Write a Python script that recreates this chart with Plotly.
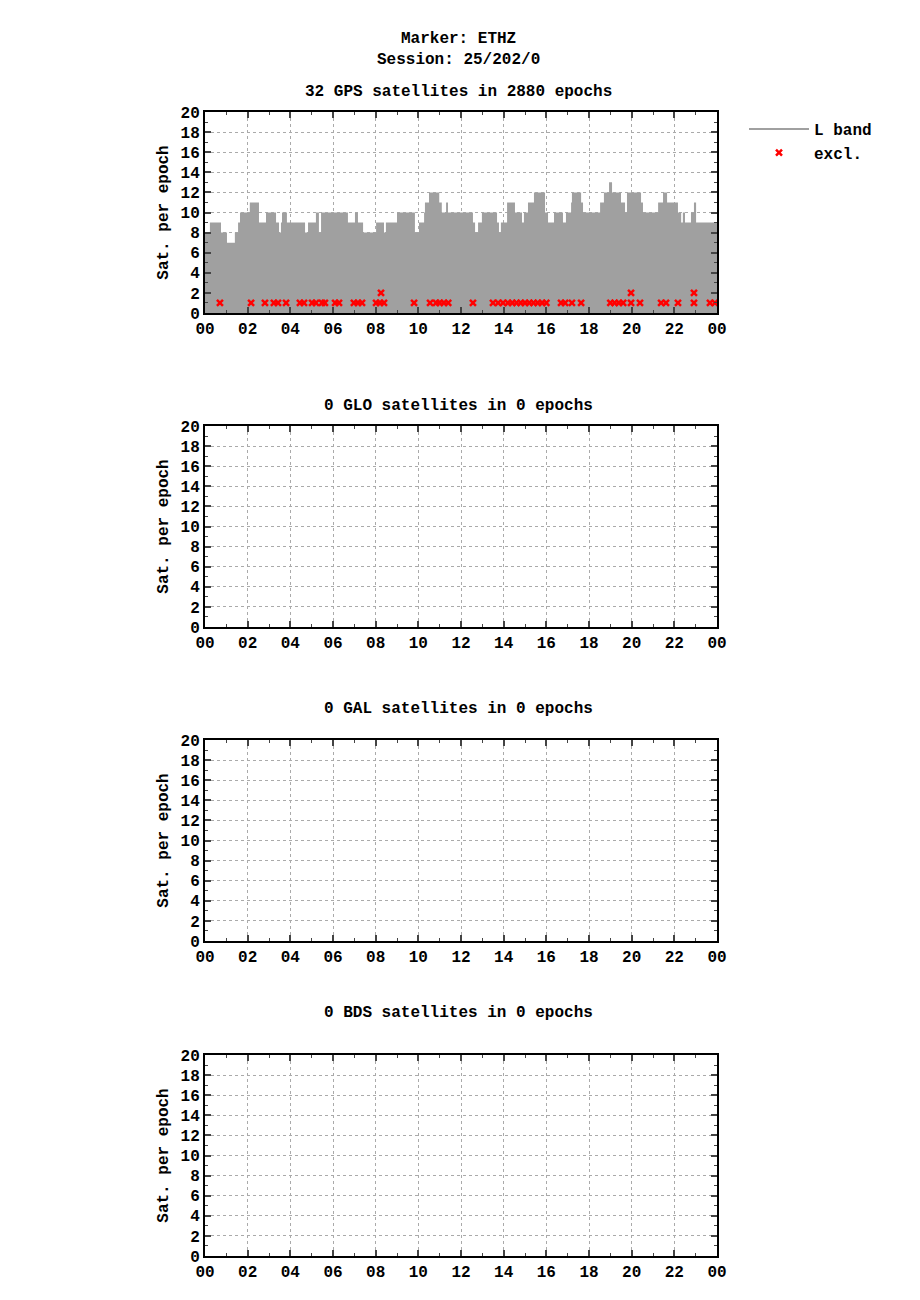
import plotly.graph_objects as go

# GPS satellites per epoch (step starts, hours) and counts
gps_hours = [0, 0.23, 0.75, 1.03, 1.4, 1.55, 1.64, 2.1, 2.53, 2.86, 3.33, 3.47, 3.56, 3.61, 3.84,
             4.69, 4.83, 5.2, 5.34, 5.44, 6.7, 7.03, 7.17, 7.41, 8.02, 8.39, 8.48, 9.0, 9.84,
             10.03, 10.27, 10.31, 10.5, 10.98, 11.1, 11.3, 11.39, 12.56, 12.66, 12.8, 12.98,
             13.69, 13.78, 13.87, 14.16, 14.53, 14.86, 14.95, 15.14, 15.42, 15.94, 16.08, 16.36,
             16.78, 16.92, 17.16, 17.2, 17.63, 17.72, 18.52, 18.7, 18.94, 19.08, 19.5, 19.69,
             19.78, 20.44, 20.53, 21.24, 21.47, 21.66, 22.17, 22.32, 22.4, 22.5, 22.78, 22.92,
             23.02, 24]
gps_count = [8, 9, 8, 7, 8, 9, 10, 11, 9, 10, 9, 8, 9, 10, 9,
             8, 9, 10, 8, 10, 9, 10, 9, 8, 9, 8, 9, 10,
             8, 9, 10, 11, 12, 11, 10, 11, 10, 9, 8, 9,
             10, 9, 8, 9, 11, 10, 9, 10, 11, 12, 10, 9,
             10, 9, 10, 11, 12, 11, 10, 11, 12, 13, 12, 11,
             10, 12, 11, 10, 11, 12, 11, 10, 9, 10, 9, 10,
             11, 9, 9]

# excluded satellites
excl_hours = [0.70, 2.16, 2.81, 3.23, 3.42, 3.80, 4.45, 4.64, 5.02, 5.2, 5.48, 5.62, 6.1, 6.28,
              6.98, 7.17, 7.36, 8.02, 8.2, 8.39, 8.25, 9.8, 10.55, 10.83, 11.0, 11.2, 11.4,
              12.56, 13.5, 13.74, 13.97, 14.2, 14.4, 14.6, 14.8, 15.0, 15.2, 15.4, 15.6, 15.8,
              16.0, 16.69, 16.88, 17.2, 17.63, 19.0, 19.2, 19.4, 19.6, 19.97, 19.97, 20.39,
              21.38, 21.61, 22.17, 22.92, 22.92, 23.67, 23.9]
excl_count = [1, 1, 1, 1, 1, 1, 1, 1, 1, 1, 1, 1, 1, 1,
              1, 1, 1, 1, 1, 1, 2, 1, 1, 1, 1, 1, 1,
              1, 1, 1, 1, 1, 1, 1, 1, 1, 1, 1, 1, 1,
              1, 1, 1, 1, 1, 1, 1, 1, 1, 1, 2, 1,
              1, 1, 1, 1, 2, 1, 1]

titles = ["32 GPS satellites in 2880 epochs", "0 GLO satellites in 0 epochs",
          "0 GAL satellites in 0 epochs", "0 BDS satellites in 0 epochs"]
tick_vals = list(range(0, 25, 2))
tick_text = ["%02d" % (h % 24) for h in tick_vals]

H = 1300
panels = [(104, 305), (418, 619), (732, 933), (1047, 1248)]
font = dict(family="Liberation Mono", size=16, color="black")

fig = go.Figure()
fig.add_trace(go.Scatter(x=gps_hours, y=gps_count, mode="lines", line=dict(shape="hv", width=0, color="#a0a0a0"),
                         fill="tozeroy", fillcolor="#a0a0a0", showlegend=False, xaxis="x", yaxis="y"))
fig.add_trace(go.Scatter(x=[None], y=[None], mode="lines", name="<b>L band</b>",
                         line=dict(color="#a0a0a0", width=2), xaxis="x", yaxis="y"))
fig.add_trace(go.Scatter(x=excl_hours, y=excl_count, mode="markers", name="<b>excl.</b>",
                         marker=dict(symbol="x-thin", size=6, color="red", line=dict(width=2.5, color="red")),
                         xaxis="x", yaxis="y"))
# empty panels still need a trace so their axes are drawn
for i in range(2, 5):
    fig.add_trace(go.Scatter(x=[None], y=[None], showlegend=False, xaxis="x%d" % i, yaxis="y%d" % i))

annotations = [dict(text="<b>Marker: ETHZ</b>", x=0.49, y=1 - 20 / H, xref="paper", yref="paper",
                    showarrow=False, font=font),
               dict(text="<b>Session: 25/202/0</b>", x=0.49, y=1 - 41 / H, xref="paper", yref="paper",
                    showarrow=False, font=font)]
layout = dict(width=920, height=H, margin=dict(l=0, r=0, t=0, b=0, autoexpand=False), plot_bgcolor="white",
              paper_bgcolor="white", font=font,
              legend=dict(x=0.8, y=1 - 104 / H, xanchor="left", yanchor="top", font=font,
                          bgcolor="rgba(0,0,0,0)", itemwidth=60))
for i, (top, bot) in enumerate(panels):
    sx = "" if i == 0 else str(i + 1)
    layout["xaxis" + sx] = dict(domain=[197 / 920, 709 / 920], range=[0, 24], anchor="y" + sx,
                                tickvals=tick_vals, ticktext=["<b>%s</b>" % t for t in tick_text],
                                ticks="inside", ticklen=6, tickwidth=2, mirror="ticks", showline=True,
                                linecolor="black", linewidth=2, showgrid=True, gridcolor="#aaa",
                                griddash="dot", zeroline=False, automargin=False,
                                minor=dict(dtick=1, ticks="inside", ticklen=3, tickwidth=1, showgrid=False))
    layout["yaxis" + sx] = dict(domain=[1 - bot / H, 1 - top / H], range=[0, 20], anchor="x" + sx,
                                tickvals=list(range(0, 21, 2)),
                                ticktext=["<b>%d</b>" % v for v in range(0, 21, 2)],
                                ticks="inside", ticklen=6, tickwidth=2, mirror="ticks", showline=True,
                                linecolor="black", linewidth=2, showgrid=True, gridcolor="#aaa",
                                griddash="dot", zeroline=False, automargin=False,
                                title=dict(text="<b>Sat. per epoch</b>", font=font, standoff=8),
                                minor=dict(dtick=1, ticks="inside", ticklen=3, tickwidth=1, showgrid=False))
    annotations.append(dict(text="<b>%s</b>" % titles[i], x=0.49, y=1 - (top - 31) / H, xref="paper",
                            yref="paper", showarrow=False, font=font))
layout["annotations"] = annotations
fig.update_layout(**layout)
fig.write_html("out.html")
